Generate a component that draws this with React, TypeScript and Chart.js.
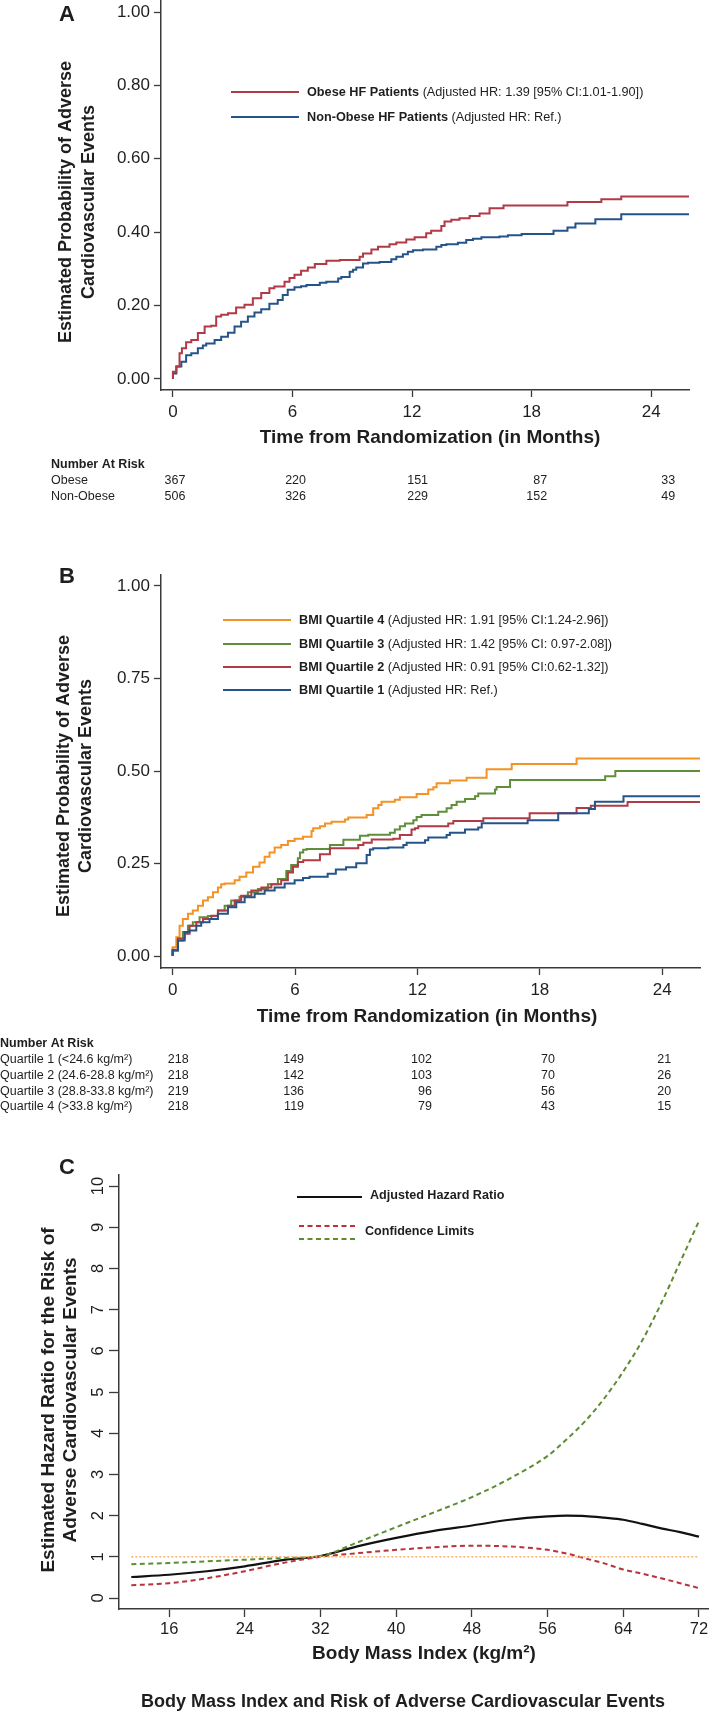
import React, { useEffect, useRef } from 'react';
import { Chart, registerables } from 'chart.js';

Chart.register(...registerables);

const SANS = '"Liberation Sans", Arial, Helvetica, sans-serif';
const TXT = '#1e1e1e';
const AXIS = '#3a3a3a';

// ---------- Panel A data (months, cumulative probability) ----------
const monthTicks = [0, 6, 12, 18, 24];
const probTicksA = [0, 0.2, 0.4, 0.6, 0.8, 1.0];
const obeseSteps: [number, number][] = [
  [0, 0], [0.17, 0.02], [0.33, 0.034], [0.45, 0.07], [0.66, 0.084], [0.92, 0.1], [1.25, 0.106], [1.59, 0.125],
  [1.92, 0.143], [2.17, 0.145], [2.42, 0.17], [2.76, 0.175], [3.17, 0.179], [3.59, 0.195], [4.01, 0.202],
  [4.43, 0.22], [4.84, 0.234], [5.09, 0.247], [5.6, 0.252], [5.85, 0.265], [6.1, 0.275], [6.43, 0.284],
  [6.77, 0.295], [7.12, 0.304], [7.7, 0.313], [8.37, 0.322], [9.37, 0.324], [9.54, 0.333], [9.96, 0.342],
  [10.29, 0.353], [10.87, 0.36], [11.21, 0.367], [11.71, 0.372], [12.13, 0.38], [12.71, 0.386], [12.96, 0.397],
  [13.47, 0.404], [13.63, 0.417], [13.97, 0.429], [14.38, 0.434], [14.89, 0.438], [15.39, 0.444], [15.89, 0.451],
  [16.59, 0.465], [19.8, 0.473], [21.5, 0.482], [22.5, 0.49], [23.3, 0.497], [25.9, 0.497],
];
const nonObeseSteps: [number, number][] = [
  [0, 0], [0.17, 0.015], [0.42, 0.034], [0.66, 0.047], [0.92, 0.065], [1.25, 0.07], [1.5, 0.084], [1.67, 0.091],
  [2.09, 0.097], [2.42, 0.106], [2.76, 0.115], [3.09, 0.126], [3.42, 0.143], [3.76, 0.156], [4.09, 0.17],
  [4.43, 0.181], [4.84, 0.19], [5.26, 0.205], [5.51, 0.215], [5.76, 0.229], [6.1, 0.243], [6.43, 0.25],
  [6.7, 0.253], [7.37, 0.256], [7.7, 0.262], [8.29, 0.265], [8.45, 0.274], [8.87, 0.278], [9.04, 0.292],
  [9.2, 0.298], [9.54, 0.304], [9.79, 0.315], [10.37, 0.317], [10.96, 0.319], [11.21, 0.326], [11.54, 0.333],
  [11.79, 0.34], [12.05, 0.347], [12.55, 0.351], [13.22, 0.353], [13.47, 0.36], [13.72, 0.365], [14.3, 0.367],
  [14.72, 0.371], [15.06, 0.379], [15.48, 0.382], [16.39, 0.386], [16.81, 0.388], [17.5, 0.392], [19.1, 0.395],
  [19.8, 0.404], [20.2, 0.413], [21.2, 0.424], [22.5, 0.435], [23.0, 0.449], [25.9, 0.449],
];
const riskObese = [367, 220, 151, 87, 33];
const riskNonObese = [506, 326, 229, 152, 49];

// ---------- Panel B data ----------
const probTicksB = [0, 0.25, 0.5, 0.75, 1.0];
const q4Steps: [number, number][] = [
  [0, 0], [0.18, 0.024], [0.34, 0.051], [0.5, 0.082], [0.75, 0.1], [0.99, 0.114], [1.24, 0.123], [1.49, 0.136],
  [1.73, 0.15], [1.98, 0.159], [2.22, 0.172], [2.38, 0.185], [2.55, 0.194], [3.04, 0.196], [3.28, 0.205],
  [3.61, 0.214], [3.94, 0.226], [4.26, 0.241], [4.51, 0.253], [4.75, 0.268], [5.0, 0.28], [5.32, 0.293],
  [5.65, 0.3], [5.98, 0.311], [6.39, 0.317], [6.81, 0.322], [6.89, 0.338], [7.22, 0.345], [7.47, 0.351],
  [7.79, 0.358], [8.45, 0.363], [8.61, 0.369], [9.51, 0.374], [9.83, 0.381], [10.08, 0.399], [10.24, 0.408],
  [10.89, 0.417], [11.14, 0.422], [11.96, 0.429], [12.53, 0.438], [12.78, 0.45], [12.94, 0.456], [13.59, 0.467],
  [14.41, 0.474], [15.39, 0.482], [16.62, 0.505], [19.8, 0.519], [22.6, 0.534], [25.85, 0.534],
];
const q3Steps: [number, number][] = [
  [0, 0], [0.26, 0.015], [0.5, 0.042], [0.75, 0.065], [0.99, 0.082], [1.32, 0.091], [1.73, 0.105], [2.22, 0.108],
  [2.55, 0.123], [2.87, 0.136], [3.28, 0.15], [3.69, 0.16], [4.18, 0.172], [4.67, 0.181], [5.16, 0.194],
  [5.57, 0.208], [5.81, 0.23], [6.14, 0.246], [6.24, 0.264], [6.4, 0.28], [6.57, 0.287], [7.71, 0.289],
  [8.37, 0.3], [9.18, 0.314], [9.59, 0.325], [10.65, 0.328], [10.89, 0.333], [11.14, 0.342], [11.39, 0.351],
  [11.8, 0.358], [11.96, 0.367], [12.2, 0.376], [13.02, 0.381], [13.43, 0.39], [13.67, 0.399], [13.92, 0.408],
  [14.33, 0.417], [14.82, 0.424], [14.98, 0.432], [15.8, 0.439], [15.88, 0.45], [16.54, 0.457], [21.2, 0.476],
  [21.7, 0.486], [23.3, 0.5], [25.85, 0.5],
];
const q2Steps: [number, number][] = [
  [0, 0], [0.26, 0.017], [0.59, 0.047], [0.83, 0.06], [1.16, 0.082], [1.49, 0.091], [1.9, 0.1], [2.22, 0.109],
  [2.71, 0.123], [3.04, 0.136], [3.36, 0.15], [3.86, 0.163], [4.35, 0.177], [4.84, 0.185], [5.32, 0.194],
  [5.65, 0.205], [5.9, 0.226], [6.14, 0.241], [6.4, 0.254], [7.22, 0.259], [7.71, 0.275], [9.1, 0.291],
  [9.35, 0.3], [9.76, 0.306], [10.82, 0.315], [11.14, 0.317], [11.71, 0.327], [11.88, 0.342], [12.04, 0.345],
  [13.51, 0.351], [13.76, 0.358], [15.23, 0.365], [17.5, 0.372], [19.8, 0.386], [20.5, 0.4], [22.3, 0.406],
  [23.0, 0.416], [25.85, 0.416],
];
const q1Steps: [number, number][] = [
  [0, 0], [0.26, 0.015], [0.59, 0.042], [0.83, 0.065], [1.16, 0.069], [1.4, 0.082], [1.81, 0.091], [2.22, 0.1],
  [2.71, 0.114], [3.12, 0.132], [3.53, 0.145], [4.02, 0.159], [4.51, 0.168], [5.0, 0.177], [5.49, 0.185],
  [5.98, 0.196], [6.39, 0.205], [6.71, 0.211], [7.6, 0.214], [8.0, 0.222], [8.5, 0.234], [9.0, 0.24],
  [9.51, 0.251], [9.67, 0.273], [9.83, 0.288], [10.57, 0.291], [11.31, 0.293], [11.47, 0.3], [12.37, 0.306],
  [12.53, 0.313], [13.43, 0.32], [13.59, 0.327], [14.33, 0.333], [14.98, 0.342], [15.15, 0.347], [17.4, 0.359],
  [18.9, 0.367], [20.4, 0.386], [20.7, 0.397], [22.1, 0.417], [23.05, 0.432], [25.85, 0.432],
];
const riskQ1 = [218, 149, 102, 70, 21];
const riskQ2 = [218, 142, 103, 70, 26];
const riskQ3 = [219, 136, 96, 56, 20];
const riskQ4 = [218, 119, 79, 43, 15];

// ---------- Panel C data ----------
const bmiTicks = [16, 24, 32, 40, 48, 56, 64, 72];
const hrTicks = [0, 1, 2, 3, 4, 5, 6, 7, 8, 9, 10];
const bmiGrid = [12, 16, 20, 24, 28, 32, 36, 40, 44, 48, 52, 56, 58, 60, 62, 64, 66, 68, 70, 72];
const hazardRatio = [0.51, 0.565, 0.65, 0.77, 0.92, 1.02, 1.26, 1.46, 1.63, 1.76, 1.9, 1.98, 2.0, 1.99, 1.95, 1.9, 1.8, 1.69, 1.6, 1.49];
const upperCI = [0.82, 0.85, 0.89, 0.93, 0.97, 1.02, 1.36, 1.72, 2.08, 2.45, 2.9, 3.45, 3.85, 4.3, 4.85, 5.5, 6.25, 7.15, 8.15, 9.15];
const lowerCI = [0.31, 0.36, 0.48, 0.65, 0.85, 1.0, 1.09, 1.17, 1.23, 1.27, 1.25, 1.17, 1.08, 0.96, 0.84, 0.69, 0.59, 0.48, 0.36, 0.24];
const refBmi = [12, 72];
const refHR = [1, 1];

// ---------- colours ----------
const RED = '#b03a46';
const BLUE = '#245489';
const ORANGE = '#f39325';
const GREEN = '#5f8f3a';
const C_RED = '#b8323c';
const C_GREEN = '#5e8c30';
const C_REF = '#f6b26b';

const pts = (s: [number, number][]) => s.map(([x, y]) => ({ x, y }));
const zipPts = (xs: number[], ys: number[]) => xs.map((x, i) => ({ x, y: ys[i] }));

function txt(ctx: CanvasRenderingContext2D, s: string, x: number, y: number, font: string, align: CanvasTextAlign = 'left', rot = 0, color = TXT) {
  ctx.save();
  ctx.translate(x, y);
  if (rot) ctx.rotate(rot);
  ctx.font = font;
  ctx.fillStyle = color;
  ctx.textAlign = align;
  ctx.textBaseline = 'middle';
  ctx.fillText(s, 0, 0);
  ctx.restore();
}

function mixed(ctx: CanvasRenderingContext2D, x: number, y: number, bold: string, normal: string, size: number) {
  ctx.save();
  ctx.textBaseline = 'middle';
  ctx.fillStyle = TXT;
  ctx.font = `bold ${size}px ${SANS}`;
  ctx.fillText(bold, x, y);
  const w = ctx.measureText(bold + ' ').width;
  ctx.font = `${size}px ${SANS}`;
  ctx.fillText(normal, x + w, y);
  ctx.restore();
}

function seg(ctx: CanvasRenderingContext2D, x1: number, x2: number, y: number, color: string, width: number, dash: number[] = []) {
  ctx.save();
  ctx.strokeStyle = color;
  ctx.lineWidth = width;
  ctx.setLineDash(dash);
  ctx.beginPath();
  ctx.moveTo(x1, y);
  ctx.lineTo(x2, y);
  ctx.stroke();
  ctx.restore();
}

const fixBox = (w?: number, h?: number) => (s: any) => {
  if (w !== undefined) s.width = w;
  if (h !== undefined) s.height = h;
  s.paddingTop = 0; s.paddingBottom = 0; s.paddingLeft = 0; s.paddingRight = 0;
};

const setTicks = (vals: number[]) => (s: any) => { s.ticks = vals.map((v) => ({ value: v })); };

function axisOpts(min: number, max: number, ticks: number[], fit: any, tickLen: number, pad: number, size: number, cb?: (v: number) => string, extra: any = {}) {
  return {
    type: 'linear',
    min, max,
    afterBuildTicks: setTicks(ticks),
    afterFit: fit,
    grid: { display: true, drawOnChartArea: false, drawTicks: true, tickLength: tickLen, tickColor: AXIS, tickWidth: 1.3 },
    border: { display: true, color: AXIS, width: 1.5 },
    ticks: { padding: pad, color: TXT, font: { family: SANS, size }, maxRotation: 0, autoSkip: false, callback: cb || ((v: number) => String(v)), ...extra },
  };
}

function useChart(ref: React.RefObject<HTMLCanvasElement>, build: () => any) {
  useEffect(() => {
    const c = ref.current;
    if (!c) return;
    const chart = new Chart(c, build());
    return () => chart.destroy();
  }, []);
}

const W = 709;
const TOP_A = 0, H_A = 520;
const TOP_B = 540, H_B = 580;
const TOP_C = 1120, H_C = 592;

// column offsets of the risk-table numbers relative to their month tick (right-aligned text)
const riskOffsetsA = [12.5, 13.5, 16, 15.5, 24];
const riskOffsetsB = [16, 9, 14.5, 15, 9];

function PanelA() {
  const ref = useRef<HTMLCanvasElement>(null);
  useChart(ref, () => ({
    type: 'line',
    data: {
      datasets: [
        { data: pts(obeseSteps), borderColor: RED, borderWidth: 2, stepped: 'after', pointRadius: 0, fill: false },
        { data: pts(nonObeseSteps), borderColor: BLUE, borderWidth: 2, stepped: 'after', pointRadius: 0, fill: false },
      ],
    },
    options: {
      responsive: false, animation: false,
      layout: { padding: { left: 0, top: 0, right: 20, bottom: 100 } },
      plugins: { legend: { display: false }, tooltip: { enabled: false } },
      scales: {
        x: axisOpts(-0.6, 25.9, monthTicks, fixBox(undefined, 30), 7, 5, 17),
        y: axisOpts(-0.03, 1.0327, probTicksA, fixBox(161, undefined), 7, 4, 17, (v) => Number(v).toFixed(2)),
      },
    },
    plugins: [{
      id: 'extrasA',
      afterDraw(chart: any) {
        const ctx = chart.ctx as CanvasRenderingContext2D;
        const xs = chart.scales.x;
        const o = TOP_A;
        txt(ctx, 'A', 67, 15 - o, `bold 22px ${SANS}`, 'center');
        txt(ctx, 'Estimated Probability of Adverse', 66, 202 - o, `bold 18px ${SANS}`, 'center', -Math.PI / 2);
        txt(ctx, 'Cardiovascular Events', 89, 202 - o, `bold 18px ${SANS}`, 'center', -Math.PI / 2);
        txt(ctx, 'Time from Randomization (in Months)', 430, 438 - o, `bold 19px ${SANS}`, 'center');
        seg(ctx, 231, 299, 92 - o, RED, 2);
        mixed(ctx, 307, 92 - o, 'Obese HF Patients', '(Adjusted HR: 1.39 [95% CI:1.01-1.90])', 12.7);
        seg(ctx, 231, 299, 117 - o, BLUE, 2);
        mixed(ctx, 307, 117 - o, 'Non-Obese HF Patients', '(Adjusted HR: Ref.)', 12.7);
        txt(ctx, 'Number At Risk', 51, 465 - o, `bold 12.5px ${SANS}`);
        const rows: [string, number[], number][] = [['Obese', riskObese, 481], ['Non-Obese', riskNonObese, 497]];
        rows.forEach(([lab, vals, y]) => {
          txt(ctx, lab, 51, y - o, `12.5px ${SANS}`);
          vals.forEach((v, i) => txt(ctx, String(v), xs.getPixelForValue(monthTicks[i]) + riskOffsetsA[i], y - o, `12.5px ${SANS}`, 'right'));
        });
      },
    }],
  }));
  return <canvas ref={ref} width={W} height={H_A} style={{ position: 'absolute', left: 0, top: TOP_A, width: W, height: H_A }} />;
}

function PanelB() {
  const ref = useRef<HTMLCanvasElement>(null);
  useChart(ref, () => ({
    type: 'line',
    data: {
      datasets: [
        { data: pts(q1Steps), borderColor: BLUE, borderWidth: 2, stepped: 'after', pointRadius: 0, fill: false },
        { data: pts(q2Steps), borderColor: RED, borderWidth: 2, stepped: 'after', pointRadius: 0, fill: false },
        { data: pts(q3Steps), borderColor: GREEN, borderWidth: 2, stepped: 'after', pointRadius: 0, fill: false },
        { data: pts(q4Steps), borderColor: ORANGE, borderWidth: 2, stepped: 'after', pointRadius: 0, fill: false },
      ],
    },
    options: {
      responsive: false, animation: false,
      layout: { padding: { left: 0, top: 35, right: 9, bottom: 122 } },
      plugins: { legend: { display: false }, tooltip: { enabled: false } },
      scales: {
        x: axisOpts(-0.57, 25.85, monthTicks, fixBox(undefined, 30), 7, 5, 17),
        y: axisOpts(-0.0324, 1.0297, probTicksB, fixBox(161, undefined), 7, 4, 17, (v) => Number(v).toFixed(2)),
      },
    },
    plugins: [{
      id: 'extrasB',
      afterDraw(chart: any) {
        const ctx = chart.ctx as CanvasRenderingContext2D;
        const xs = chart.scales.x;
        const o = TOP_B;
        txt(ctx, 'B', 67, 577 - o, `bold 22px ${SANS}`, 'center');
        txt(ctx, 'Estimated Probability of Adverse', 64, 776 - o, `bold 18px ${SANS}`, 'center', -Math.PI / 2);
        txt(ctx, 'Cardiovascular Events', 86, 776 - o, `bold 18px ${SANS}`, 'center', -Math.PI / 2);
        txt(ctx, 'Time from Randomization (in Months)', 427, 1017 - o, `bold 19px ${SANS}`, 'center');
        const leg: [string, string, string, number][] = [
          [ORANGE, 'BMI Quartile 4', '(Adjusted HR: 1.91 [95% CI:1.24-2.96])', 620],
          [GREEN, 'BMI Quartile 3', '(Adjusted HR: 1.42 [95% CI: 0.97-2.08])', 644],
          [RED, 'BMI Quartile 2', '(Adjusted HR: 0.91 [95% CI:0.62-1.32])', 667],
          [BLUE, 'BMI Quartile 1', '(Adjusted HR: Ref.)', 690],
        ];
        leg.forEach(([col, b, n, y]) => {
          seg(ctx, 223, 291, y - o, col, 2);
          mixed(ctx, 299, y - o, b, n, 12.7);
        });
        txt(ctx, 'Number At Risk', 0, 1044 - o, `bold 12.5px ${SANS}`);
        const rows: [string, number[], number][] = [
          ['Quartile 1 (<24.6 kg/m²)', riskQ1, 1060],
          ['Quartile 2 (24.6-28.8 kg/m²)', riskQ2, 1076],
          ['Quartile 3 (28.8-33.8 kg/m²)', riskQ3, 1092],
          ['Quartile 4 (>33.8 kg/m²)', riskQ4, 1107],
        ];
        rows.forEach(([lab, vals, y]) => {
          txt(ctx, lab, 0, y - o, `12.5px ${SANS}`);
          vals.forEach((v, i) => txt(ctx, String(v), xs.getPixelForValue(monthTicks[i]) + riskOffsetsB[i], y - o, `12.5px ${SANS}`, 'right'));
        });
      },
    }],
  }));
  return <canvas ref={ref} width={W} height={H_B} style={{ position: 'absolute', left: 0, top: TOP_B, width: W, height: H_B }} />;
}

function PanelC() {
  const ref = useRef<HTMLCanvasElement>(null);
  useChart(ref, () => ({
    type: 'line',
    data: {
      datasets: [
        { data: zipPts(refBmi, refHR), borderColor: C_REF, borderWidth: 1.5, borderDash: [2, 2], pointRadius: 0, fill: false },
        { data: zipPts(bmiGrid, lowerCI), borderColor: C_RED, borderWidth: 2, borderDash: [5, 3.5], pointRadius: 0, fill: false, cubicInterpolationMode: 'monotone' },
        { data: zipPts(bmiGrid, upperCI), borderColor: C_GREEN, borderWidth: 2, borderDash: [5, 3.5], pointRadius: 0, fill: false, cubicInterpolationMode: 'monotone' },
        { data: zipPts(bmiGrid, hazardRatio), borderColor: '#111', borderWidth: 2.2, pointRadius: 0, fill: false, cubicInterpolationMode: 'monotone' },
      ],
    },
    options: {
      responsive: false, animation: false,
      layout: { padding: { left: 0, top: 55, right: 0, bottom: 73 } },
      plugins: { legend: { display: false }, tooltip: { enabled: false } },
      scales: {
        x: axisOpts(10.7, 73.06, bmiTicks, fixBox(undefined, 30), 8, 3, 16.5),
        y: axisOpts(-0.267, 10.27, hrTicks, fixBox(119, undefined), 10, 1, 16.5, undefined, { minRotation: 90, maxRotation: 90, crossAlign: 'center' }),
      },
    },
    plugins: [{
      id: 'extrasC',
      afterDraw(chart: any) {
        const ctx = chart.ctx as CanvasRenderingContext2D;
        const o = TOP_C;
        txt(ctx, 'C', 67, 1168 - o, `bold 22px ${SANS}`, 'center');
        txt(ctx, 'Estimated Hazard Ratio for the Risk of', 49, 1400 - o, `bold 19px ${SANS}`, 'center', -Math.PI / 2);
        txt(ctx, 'Adverse Cardiovascular Events', 71, 1400 - o, `bold 19px ${SANS}`, 'center', -Math.PI / 2);
        txt(ctx, 'Body Mass Index (kg/m²)', 424, 1654 - o, `bold 19px ${SANS}`, 'center');
        txt(ctx, 'Body Mass Index and Risk of Adverse Cardiovascular Events', 403, 1702 - o, `bold 18px ${SANS}`, 'center');
        seg(ctx, 297, 362, 1197 - o, '#111', 2.2);
        txt(ctx, 'Adjusted Hazard Ratio', 370, 1196 - o, `bold 12.6px ${SANS}`);
        seg(ctx, 299, 355, 1226 - o, C_RED, 2, [5, 3.5]);
        seg(ctx, 299, 355, 1239 - o, C_GREEN, 2, [5, 3.5]);
        txt(ctx, 'Confidence Limits', 365, 1232 - o, `bold 12.6px ${SANS}`);
      },
    }],
  }));
  return <canvas ref={ref} width={W} height={H_C} style={{ position: 'absolute', left: 0, top: TOP_C, width: W, height: H_C }} />;
}

export default function App() {
  return (
    <div style={{ position: 'absolute', left: 0, top: 0, width: W, height: 1712, background: '#fff', overflow: 'hidden' }}>
      <PanelA />
      <PanelB />
      <PanelC />
    </div>
  );
}
